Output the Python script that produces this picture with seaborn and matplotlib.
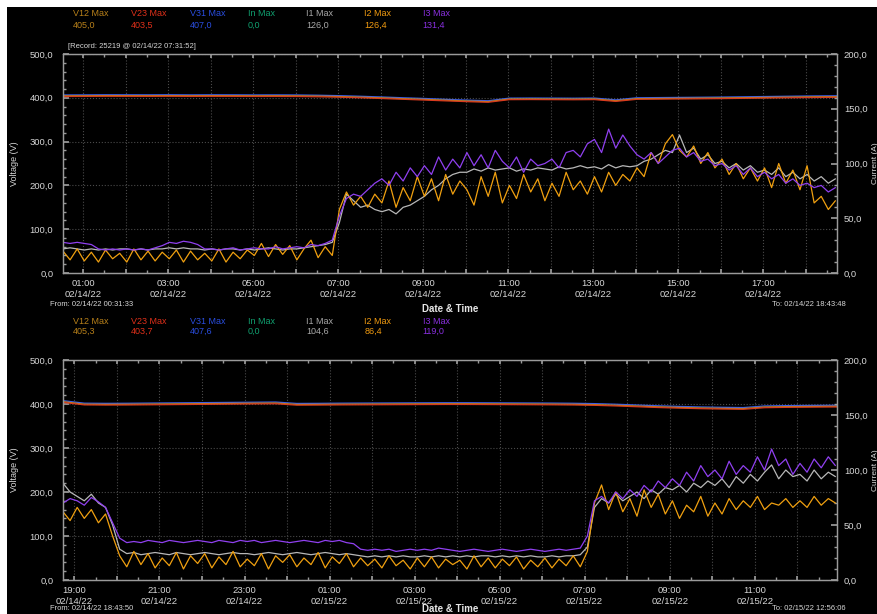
import pandas as pd
import matplotlib
matplotlib.use("Agg")
import matplotlib.pyplot as plt
import matplotlib.dates as mdates
from matplotlib.patches import Rectangle
from matplotlib.ticker import MultipleLocator, FuncFormatter
import seaborn as sns

# ---------------------------------------------------------------- data
# Currents (A), one sample every 10 minutes
top_start = "2022-02-14 00:31:33"
top_end = "2022-02-14 18:43:48"
bot_start = "2022-02-14 18:43:50"
bot_end = "2022-02-15 12:56:06"

top_i3 = [28, 27, 28,
          27, 26, 22, 21, 22, 21,
          22, 21, 22, 21, 23, 25,
          28, 27, 29, 28, 26, 22,
          22, 21, 22, 23, 21, 22,
          23, 22, 22, 24, 22, 23,
          24, 23, 26, 25, 27, 30,
          52, 68, 72, 70, 76, 82,
          86, 80, 92, 84, 96, 88,
          98, 90, 106, 94, 104, 96,
          110, 98, 108, 96, 112, 102,
          96, 106, 92, 104, 98, 100,
          104, 96, 110, 112, 106, 118,
          122, 110, 131.4, 114, 126, 116,
          108, 104, 110, 100, 106, 112,
          114, 106, 110, 102, 104, 98,
          100, 94, 98, 90, 96, 88,
          92, 86, 90, 82, 86, 80,
          82, 78, 80, 74, 78]
top_i1 = [22, 23, 22,
          21, 22, 21, 22, 21, 22,
          22, 21, 22, 21, 22, 22,
          23, 22, 23, 22, 22, 21,
          22, 21, 22, 22, 21, 22,
          21, 22, 23, 22, 21, 22,
          22, 23, 24, 25, 26, 28,
          46, 72, 66, 60, 62, 58,
          56, 58, 54, 60, 62, 66,
          70, 76, 80, 86, 90, 92,
          92, 95, 93, 96, 94, 95,
          96, 93, 95, 94, 96, 95,
          94, 97, 95, 96, 98, 96,
          97, 95, 99, 96, 98, 97,
          98, 102, 104, 108, 112, 110,
          126.0, 110, 114, 104, 108, 100,
          102, 96, 100, 94, 98, 92,
          94, 90, 96, 88, 92, 86,
          90, 84, 88, 82, 86]
top_i2 = [20, 12, 22,
          11, 19, 10, 21, 13, 18,
          10, 22, 12, 20, 11, 19,
          13, 21, 10, 20, 12, 18,
          11, 22, 10, 19, 13, 21,
          16, 27, 15, 26, 17, 25,
          12, 22, 30, 14, 24, 16,
          58, 74, 62, 70, 60, 72,
          64, 84, 60, 78, 66, 88,
          70, 86, 66, 90, 72, 84,
          76, 62, 88, 70, 92, 64,
          80, 68, 90, 74, 86, 66,
          82, 70, 92, 76, 84, 72,
          88, 74, 92, 80, 90, 84,
          96, 88, 110, 100, 118, 126.4,
          112, 106, 116, 100, 110, 96,
          104, 90, 100, 86, 96, 84,
          96, 78, 100, 82, 94, 76,
          98, 64, 70, 58, 66]

bot_i3 = [70, 74,
          72, 68, 75, 71, 66, 52,
          38, 34, 35, 34, 36, 35,
          34, 36, 35, 34, 35, 36,
          35, 34, 36, 35, 34, 36,
          35, 36, 34, 35, 36, 35,
          34, 35, 36, 35, 34, 36,
          35, 36, 34, 33, 28, 27,
          28, 27, 28, 26, 27, 28,
          27, 28, 27, 29, 28, 27,
          26, 27, 28, 27, 26, 27,
          28, 27, 26, 27, 28, 27,
          26, 27, 28, 27, 28, 29,
          40, 72, 76, 70, 80, 74,
          82, 76, 86, 80, 90, 84,
          92, 86, 98, 90, 104, 94,
          100, 92, 108, 96, 104, 98,
          112, 100, 119.0, 104, 110, 96,
          106, 98, 110, 102, 112, 104]
bot_i1 = [88, 80,
          76, 72, 78, 70, 66, 50,
          28, 24, 25, 23, 24, 25,
          24, 23, 25, 24, 23, 24,
          25, 24, 23, 24, 25, 24,
          24, 23, 24, 25, 24, 23,
          24, 25, 24, 23, 24, 25,
          24, 23, 24, 23, 22, 21,
          22, 21, 22, 21, 22, 21,
          21, 22, 21, 22, 21, 22,
          21, 22, 21, 22, 22, 21,
          22, 21, 22, 21, 22, 21,
          21, 22, 21, 22, 22, 23,
          30, 66, 74, 70, 78, 72,
          76, 80, 74, 82, 78, 84,
          82, 86, 80, 88, 84, 90,
          86, 92, 84, 94, 88, 96,
          90, 98, 104.6, 92, 100, 94,
          96, 90, 100, 92, 98, 94]
bot_i2 = [62, 54,
          66, 56, 64, 52, 60, 40,
          22, 12, 26, 14, 24, 11,
          20, 13, 25, 10, 22, 15,
          24, 11, 21, 14, 26, 12,
          19, 13, 24, 10, 22, 16,
          23, 12, 20, 14, 25, 11,
          21, 15, 24, 12, 20, 13,
          19, 11, 22, 13, 18, 10,
          20, 12, 21, 11, 19, 14,
          18, 10, 22, 12, 20, 11,
          19, 13, 21, 10, 18, 12,
          20, 11, 19, 13, 22, 12,
          26, 70, 86.4, 64, 80, 62,
          74, 58, 82, 66, 78, 60,
          72, 56, 68, 62, 76, 58,
          70, 60, 74, 64, 72, 66,
          76, 64, 70, 68, 74, 66,
          72, 66, 76, 68, 74, 70]

# Line voltages (V), one sample every 30 minutes
top_v12 = [404.5, 404.7, 405.0, 404.9, 404.8, 405.0, 404.7, 404.9, 404.8, 404.6,
           404.7, 404.5, 403.9, 402.9, 401.5, 399.9, 398.1, 396.5, 394.5, 392.7,
           391.3, 397.3, 397.5, 397.3, 397.1, 397.4, 393.3, 398.1, 398.5, 398.9,
           399.3, 399.7, 400.3, 400.9, 401.5, 402.1, 402.5, 402.7]
top_v23 = [403.0, 403.2, 403.5, 403.4, 403.3, 403.5, 403.2, 403.4, 403.3, 403.1,
           403.2, 403.0, 402.4, 401.4, 400.0, 398.4, 396.6, 394.8, 393.0, 391.2,
           389.8, 395.8, 396.0, 395.8, 395.6, 395.9, 391.8, 396.6, 397.0, 397.4,
           397.8, 398.2, 398.8, 399.4, 400.0, 400.6, 401.0, 401.2]
top_v31 = [406.5, 406.7, 407.0, 406.9, 406.8, 407.0, 406.7, 406.9, 406.8, 406.6,
           406.7, 406.5, 405.9, 404.9, 403.5, 401.9, 400.1, 398.5, 396.5, 394.7,
           393.3, 399.3, 399.5, 399.3, 399.1, 399.4, 395.3, 400.1, 400.5, 400.9,
           401.3, 401.7, 402.3, 402.9, 403.5, 404.1, 404.5, 404.7]

bot_v12 = [405.3, 399.6, 399.2, 399.4, 399.8, 400.2, 400.6, 401.0, 401.4, 401.8,
           402.2, 399.0, 399.2, 399.6, 399.8, 400.0, 400.2, 400.4, 400.6, 400.6,
           400.4, 400.2, 400.0, 399.8, 399.4, 398.6, 397.2, 395.4, 393.6, 392.2,
           391.0, 390.2, 389.6, 393.2, 394.0, 394.4, 394.8, 395.0]
bot_v23 = [403.7, 398.0, 397.6, 397.8, 398.2, 398.6, 399.0, 399.4, 399.8, 400.2,
           400.6, 397.4, 397.6, 398.0, 398.2, 398.4, 398.6, 398.8, 399.0, 399.0,
           398.8, 398.6, 398.4, 398.2, 397.8, 397.0, 395.6, 393.8, 392.0, 390.6,
           389.4, 388.6, 388.0, 391.6, 392.4, 392.8, 393.2, 393.4]
bot_v31 = [407.6, 401.9, 401.5, 401.7, 402.1, 402.5, 402.9, 403.3, 403.7, 404.1,
           404.5, 401.3, 401.5, 401.9, 402.1, 402.3, 402.5, 402.7, 402.9, 402.9,
           402.7, 402.5, 402.3, 402.1, 401.7, 400.9, 399.5, 397.7, 395.9, 394.5,
           393.3, 392.5, 391.9, 395.5, 396.3, 396.7, 397.1, 397.3]

# Neutral current stays at zero the whole time
top_in = [0.0] * len(top_i1)
bot_in = [0.0] * len(bot_i1)

series_names = ["V12 Max", "V23 Max", "V31 Max", "In Max", "I1 Max", "I2 Max", "I3 Max"]
text_colors = ["#b8801a", "#e0301a", "#2a4ee0", "#10a070", "#a8a8a8", "#f09a10", "#8a30e0"]
line_colors = {"V12": "#c08a20", "V23": "#d83a1e", "V31": "#3a5ee8",
               "In": "#10a070", "I1": "#b8b8b8", "I2": "#f0a010", "I3": "#9040f0"}

# ---------------------------------------------------------------- style
sns.set_theme(style="ticks")
plt.rcParams["font.family"] = ["Liberation Sans", "DejaVu Sans"]

W, H = 878, 614
fig = plt.figure(figsize=(W / 100, H / 100), dpi=100, facecolor="white")
fig.add_artist(Rectangle((7 / W, 0), 1 - 7 / W, 1 - 7 / H, transform=fig.transFigure,
                         facecolor="black", edgecolor="none", zorder=-10))

TXT = "#d6d6d6"
FRAME = "#9a9a9a"


def comma(v, pos=None):
    return f"{v:.1f}".replace(".", ",")


def hour_label(x, pos=None):
    ts = pd.Timestamp(mdates.num2date(x)).tz_localize(None).round("min")
    if ts.minute == 0 and ts.hour % 2 == 1:
        return ts.strftime("%H:%M\n%m/%d/%y")
    return ""


def fig_text(px, py, s, **kw):
    fig.text(px / W, 1 - py / H, s, va="center", **kw)


def panel(rect, start, end, volts, amps, names_y, vals_y, from_txt, to_txt, foot_y, xlabel_y):
    ax = fig.add_axes(rect)
    ax.set_facecolor("black")
    t_v = pd.date_range(start, periods=len(volts["V23"]), freq="30min")
    t_i = pd.date_range(start, periods=len(amps["I1"]), freq="10min")

    vdf = pd.DataFrame({"time": t_v, **volts}).melt("time", var_name="series", value_name="value")
    sns.lineplot(data=vdf, x="time", y="value", hue="series", hue_order=["V31", "V12", "V23"],
                 palette=line_colors, linewidth=0.9, legend=False, ax=ax)

    ax2 = ax.twinx()
    idf = pd.DataFrame({"time": t_i, **amps}).melt("time", var_name="series", value_name="value")
    sns.lineplot(data=idf[idf.series == "In"], x="time", y="value", color=line_colors["In"],
                 linewidth=0.5, legend=False, ax=ax2)
    sns.lineplot(data=idf[idf.series != "In"], x="time", y="value", hue="series",
                 hue_order=["I1", "I2", "I3"], palette=line_colors, linewidth=0.9,
                 legend=False, ax=ax2)

    t0, t1 = pd.Timestamp(start), pd.Timestamp(end)
    ax.set_xlim(t0, t1)
    ax.set_ylim(0, 500)
    ax2.set_ylim(0, 200)

    ax.xaxis.set_major_locator(mdates.HourLocator(interval=1))
    ax.xaxis.set_minor_locator(mdates.MinuteLocator(byminute=[30]))
    ax.xaxis.set_major_formatter(FuncFormatter(hour_label))
    ax.yaxis.set_major_locator(MultipleLocator(100))
    ax.yaxis.set_minor_locator(MultipleLocator(20))
    ax.yaxis.set_major_formatter(FuncFormatter(comma))
    ax2.yaxis.set_major_locator(MultipleLocator(50))
    ax2.yaxis.set_minor_locator(MultipleLocator(10))
    ax2.yaxis.set_major_formatter(FuncFormatter(comma))

    ax.grid(True, which="major", color="#4a4a4a", linestyle=":", linewidth=0.8)
    ax2.grid(False)
    for a in (ax, ax2):
        for sp in a.spines.values():
            sp.set_color(FRAME)
            sp.set_linewidth(0.9)
            sp.set_visible(True)
    ax.tick_params(axis="x", which="both", direction="in", colors=FRAME, labelcolor=TXT,
                   labelsize=6.8, pad=4, top=True)
    ax.tick_params(axis="x", which="major", length=3)
    ax.tick_params(axis="x", which="minor", length=2)
    ax.tick_params(axis="y", which="both", direction="in", colors=FRAME, labelcolor=TXT,
                   labelsize=6.8, pad=7)
    ax.tick_params(axis="y", which="major", length=4)
    ax.tick_params(axis="y", which="minor", length=2)
    ax2.tick_params(axis="y", which="both", direction="in", colors=FRAME, labelcolor=TXT,
                    labelsize=6.8, pad=5)
    ax2.tick_params(axis="y", which="major", length=4)
    ax2.tick_params(axis="y", which="minor", length=2)

    ax.set_xlabel("")
    ax.set_ylabel("Voltage (V)", color=TXT, fontsize=6.5)
    ax.yaxis.set_label_coords((19 - 63) / 774, 0.5)
    ax2.set_ylabel("Current (A)", color=TXT, fontsize=6)
    ax2.yaxis.set_label_coords((872 - 63) / 774, 0.5)

    # header: series names with their maximum over the window
    maxima = [max(volts["V12"]), max(volts["V23"]), max(volts["V31"]), max(amps["In"]),
              max(amps["I1"]), max(amps["I2"]), max(amps["I3"])]
    for k, (name, col, m) in enumerate(zip(series_names, text_colors, maxima)):
        x = 73 + k * 58.3
        fig_text(x, names_y, name, color=col, fontsize=6.5)
        fig_text(x, vals_y, comma(m), color=col, fontsize=6.5)

    fig_text(50, foot_y, from_txt, color=TXT, fontsize=5.5)
    fig_text(772, foot_y, to_txt, color=TXT, fontsize=5.5)
    fig_text(450, xlabel_y, "Date & Time", color="#e6e6e6", fontsize=7, weight="bold", ha="center")
    return ax


top = dict(V12=top_v12, V23=top_v23, V31=top_v31)
bot = dict(V12=bot_v12, V23=bot_v23, V31=bot_v31)
ax_top = panel([63 / W, 1 - 273 / H, 774 / W, 219 / H], top_start, top_end, top,
               dict(In=top_in, I1=top_i1, I2=top_i2, I3=top_i3), 14, 25,
               "From: 02/14/22 00:31:33", "To: 02/14/22 18:43:48", 305, 309)
ax_bot = panel([63 / W, 1 - 580 / H, 774 / W, 220 / H], bot_start, bot_end, bot,
               dict(In=bot_in, I1=bot_i1, I2=bot_i2, I3=bot_i3), 321, 331,
               "From: 02/14/22 18:43:50", "To: 02/15/22 12:56:06", 608, 609.5)

fig_text(68, 47, "[Record: 25219 @ 02/14/22 07:31:52]", color=TXT, fontsize=5.5)

fig.canvas.draw()
for a in (ax_top, ax_bot):
    for tick in a.xaxis.get_major_ticks():
        tick.label1.set_linespacing(1.3)

fig.savefig("out.png", dpi=100, facecolor=fig.get_facecolor())
